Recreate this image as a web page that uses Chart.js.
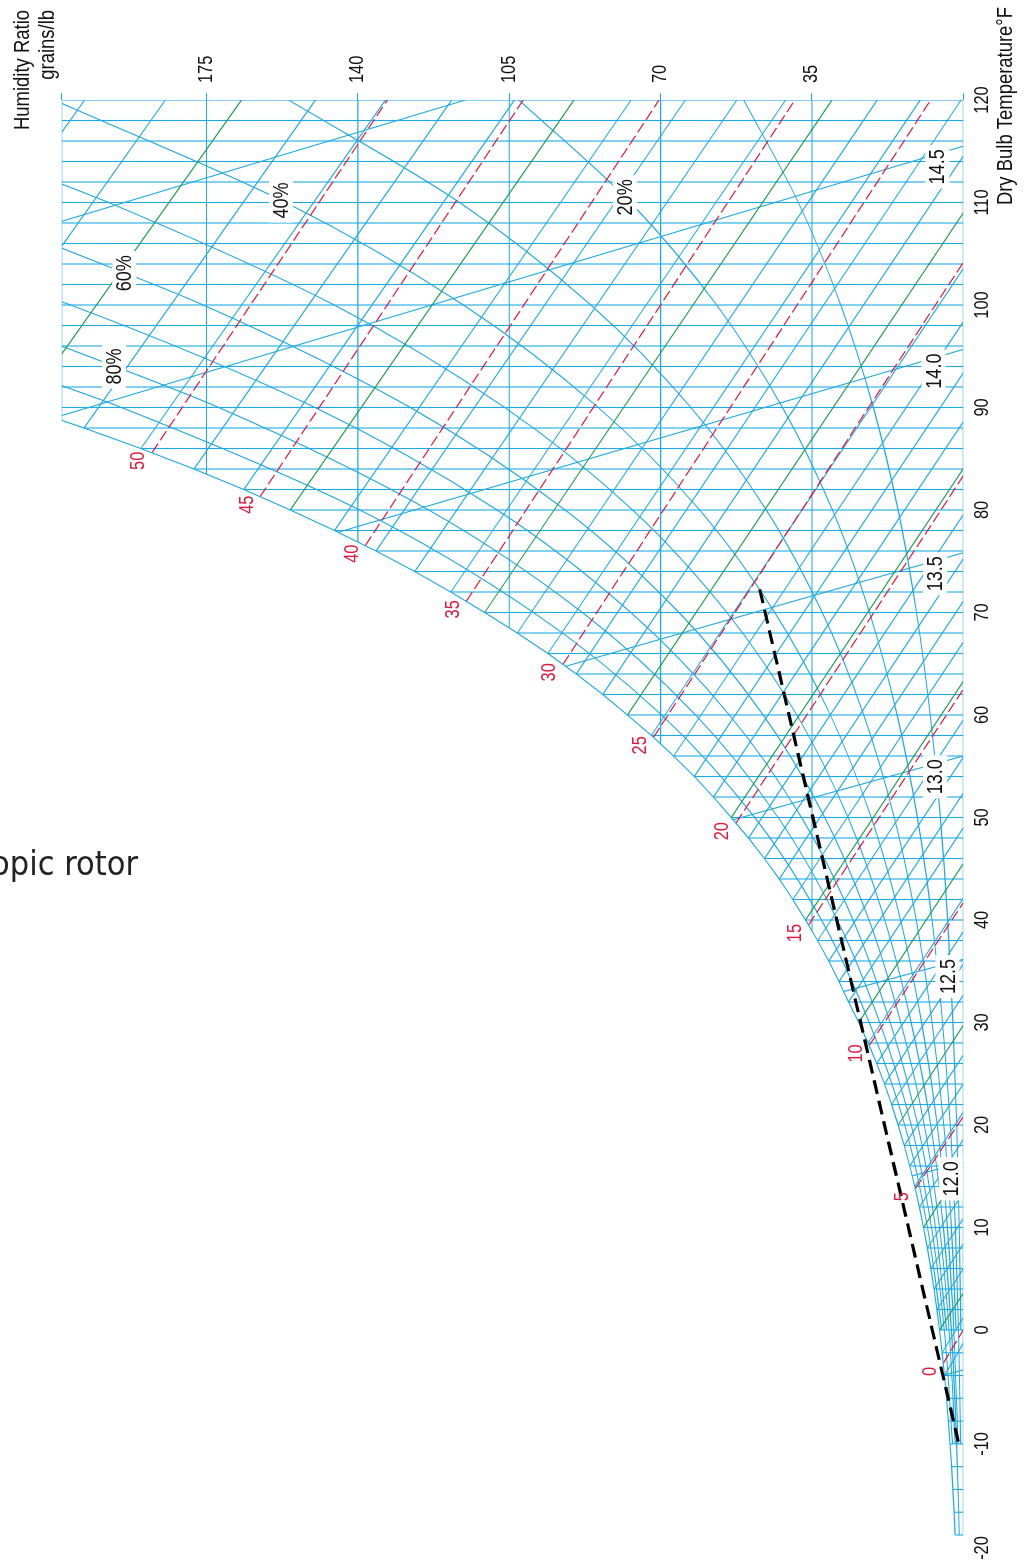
<!DOCTYPE html>
<html>
<head>
<meta charset="utf-8">
<title>Psychrometric chart</title>
<script src="https://cdn.jsdelivr.net/npm/chart.js@4.4.1/dist/chart.umd.min.js"></script>
<style>
  html, body { margin: 0; padding: 0; background: #fff; }
  body { width: 1034px; height: 1566px; overflow: hidden; position: relative; }
  /* the chart is laid out landscape and turned a quarter turn to the left */
  #turn { position: absolute; left: 0; top: 0; width: 1566px; height: 1034px;
          transform-origin: 0 0; transform: translate(0, 1566px) rotate(-90deg); }
  #note { position: absolute; left: -9px; top: 846px; color: #222; white-space: nowrap;
          font: 34px/34px "DejaVu Sans Condensed", "DejaVu Sans", sans-serif; }
</style>
</head>
<body>
<div id="turn"><canvas id="psychro" width="1566" height="1034"></canvas></div>
<div id="note">opic rotor</div>
<script>
// saturation curve: dry bulb (°F) and humidity ratio (grains per lb dry air)
const satTemp = [-18, -16, -14, -12, -10, -8, -6, -4, -2, 0, 2, 4, 6, 8, 10, 12, 14, 16, 18, 20,
  22, 24, 26, 28, 30, 32, 34, 36, 38, 40, 42, 44, 46, 48, 50, 52, 54, 56, 58, 60,
  62, 64, 66, 68, 70, 72, 74, 76, 78, 80, 82, 84, 86, 88, 88.75];
const satGrains = [1.88, 2.12, 2.40, 2.71, 3.07, 3.45, 3.88, 4.36, 4.90, 5.51, 6.11, 6.77, 7.50, 8.31, 9.21, 10.16, 11.22, 12.38, 13.66, 15.07,
  16.57, 18.21, 20.02, 22.01, 24.19, 26.53, 28.73, 31.11, 33.69, 36.49, 39.42, 42.58, 45.99, 49.68, 53.66, 57.78, 62.21, 66.99, 72.13, 77.66,
  83.37, 89.49, 96.07, 103.13, 110.70, 118.51, 126.87, 135.82, 145.40, 155.66, 166.41, 177.91, 190.20, 203.34, 208.5];
const topGrains = 208.5;
const topTemp = 120;

// dry bulb lines that run the full height above the saturation curve
const upperDryBulbs = [90, 92, 94, 96, 98, 100, 102, 104, 106, 108, 110, 112, 114, 116, 118];

// labelled humidity ratio lines and the dry bulb where each leaves the saturation curve
const humidityTicks = [35, 70, 105, 140, 175];
const humiditySatTemp = [38.99, 57.19, 68.51, 76.89, 83.51];

// relative humidity curves, grains/lb at each dry bulb in rhTemp
const rhTemp = [-18, -10, 0, 10, 20, 30, 40, 50, 60, 70, 80, 90, 100, 110, 120];
const rh10 = [null, null, 0.55, 0.92, 1.50, 2.41, 3.62, 5.31, 7.64, 10.82, 15.08, 20.80, 28.34, 38.14, 50.79];
const rh20 = [null, 0.61, 1.10, 1.84, 3.01, 4.82, 7.25, 10.63, 15.31, 21.70, 30.27, 41.81, 57.05, 76.96, 102.78];
const rh30 = [null, null, 1.65, 2.76, 4.51, 7.23, 10.88, 15.96, 23.01, 32.63, 45.56, 63.01, 86.13, 116.47, 156.01];
const rh40 = [null, 1.23, 2.20, 3.68, 6.02, 9.64, 14.52, 21.31, 30.74, 43.61, 60.96, 84.42, 115.61, 156.70];
const rh50 = [0.94, 1.54, 2.76, 4.60, 7.52, 12.06, 18.17, 26.67, 38.49, 54.66, 76.46, 106.04, 145.48, 197.65];
const rh60 = [null, 1.84, 3.31, 5.52, 9.03, 14.48, 21.82, 32.04, 46.27, 65.75, 92.08, 127.87, 175.75];
const rh70 = [null, null, 3.86, 6.44, 10.54, 16.91, 25.48, 37.43, 54.08, 76.90, 107.81, 149.92, 206.43];
const rh80 = [null, 2.46, 4.41, 7.37, 12.05, 19.33, 29.14, 42.82, 61.91, 88.11, 123.64, 172.19];
const rh90 = [null, null, 4.96, 8.29, 13.56, 21.76, 32.81, 48.24, 69.77, 99.38, 139.60, 194.67];
const rhLevels = [10, 20, 30, 40, 50, 60, 70, 80, 90];
// dry bulb where a curve runs into the top humidity limit
const rhTopTemp = [null, null, null, 119.67, 111.8, 105.55, 100.3, 96.0, 92.14];

// wet bulb lines every 2°F: each starts on the saturation curve (or the top limit) and ends here
const wetBulbTemp = [-4, -2, 0, 2, 4, 6, 8, 10, 12, 14, 16, 18, 20,
  22, 24, 26, 28, 30, 32, 34, 36, 38, 40, 42, 44, 46, 48, 50, 52, 54, 56, 58, 60,
  62, 64, 66, 68, 70, 72, 74, 76, 78, 80, 82, 84, 86, 88, 90, 92, 94];
const wetBulbEndTemp = [-1.16, 1.19, 3.58, 5.97, 8.39, 10.86, 13.39, 15.96, 18.57, 21.24, 23.99, 26.80, 29.71,
  32.66, 35.70, 38.85, 42.11, 45.50, 48.98, 52.37, 55.87, 59.50, 63.26, 67.10, 71.08, 75.22, 79.53, 84.02, 88.60, 93.36, 98.34, 103.54, 108.98,
  114.53, 120, 120, 120, 120, 120, 120, 120, 120, 120, 120, 120, 120, 120, 120, 120, 120];
const wetBulbEndGrains = [0, 0, 0, 0, 0, 0, 0, 0, 0, 0, 0, 0, 0,
  0, 0, 0, 0, 0, 0, 0, 0, 0, 0, 0, 0, 0, 0, 0, 0, 0, 0, 0, 0,
  0, 0.5, 9.96, 19.90, 30.37, 41.10, 52.38, 64.27, 76.81, 90.04, 103.79, 118.30, 133.62, 149.81, 166.92, 184.53, 203.19];
// wet bulbs 90, 92, 94 begin on the top limit at these dry bulbs
const wetBulbTopTemp = [95.22, 105.74, 116.85];

// enthalpy lines, Btu/lb dry air
const enthalpyValues = [0, 5, 10, 15, 20, 25, 30, 35, 40, 45, 50];
const enthalpyStartTemp = [-2.93, 13.78, 27.76, 39.51, 49.45, 57.82, 64.94, 71.09, 76.52, 81.30, 85.58];
const enthalpyStartGrains = [4.65, 11.10, 21.77, 35.81, 52.57, 71.66, 92.58, 114.94, 138.31, 162.63, 187.64];
const enthalpyEndTemp = [0, 20.83, 41.67, 62.5, 83.33, 104.17, 120, 120, 120, 120, 120];
const enthalpyEndGrains = [0, 0, 0, 0, 0, 0, 7.54, 38.95, 70.36, 101.77, 133.18];

// specific volume lines, ft³/lb dry air
const volumeValues = [11.5, 12.0, 12.5, 13.0, 13.5, 14.0, 14.5, 15.0];
const volumeStartTemp = [-3.96, 15.04, 33.02, 49.78, 64.75, 77.83, 89.21, 108.16];
const volumeStartGrains = [4.37, 11.82, 27.65, 53.22, 91.96, 144.57, 208.5, 208.5];
const volumeEndTemp = [-3.50, 16.33, 36.17, 56.0, 75.83, 95.67, 115.50, 120];
const volumeEndGrains = [0, 0, 0, 0, 0, 0, 0, 115.15];

// process line through the wheel
const processTemp = [-9.8, 72.85];
const processGrains = [1.16, 47.4];

const blue = '#1ea9e4';
const green = '#1d9f4a';
const red = '#e2183d';
const ink = '#111';
const face = '"Liberation Sans", Arial, sans-serif';
const squeeze = 0.82;   // horizontal squeeze that gives the condensed lettering

// dry bulb axis is stretched below 0°F: [value, fraction of the axis length]
const dryBulbBreaks = [[-20, 0], [-18, 13 / 1448], [0, 218 / 1448], [120, 1]];

function dryBulbDecimal(v) {
  let i = 0;
  while (i < dryBulbBreaks.length - 2 && v > dryBulbBreaks[i + 1][0]) i++;
  const [v0, f0] = dryBulbBreaks[i];
  const [v1, f1] = dryBulbBreaks[i + 1];
  return f0 + (v - v0) / (v1 - v0) * (f1 - f0);
}
function dryBulbValue(f) {
  let i = 0;
  while (i < dryBulbBreaks.length - 2 && f > dryBulbBreaks[i + 1][1]) i++;
  const [v0, f0] = dryBulbBreaks[i];
  const [v1, f1] = dryBulbBreaks[i + 1];
  return v0 + (f - f0) / (f1 - f0) * (v1 - v0);
}

class SplitLinearScale extends Chart.LinearScale {
  getPixelForValue(value) {
    return value === null ? NaN : this.getPixelForDecimal(dryBulbDecimal(value));
  }
  getValueForPixel(pixel) {
    return dryBulbValue(this.getDecimalForPixel(pixel));
  }
}
SplitLinearScale.id = 'splitLinear';
SplitLinearScale.defaults = {};
Chart.register(SplitLinearScale);

function line(points, color, extra) {
  return Object.assign({
    data: points, borderColor: color, borderWidth: 1.1, pointRadius: 0,
    tension: 0, fill: false, order: 6
  }, extra || {});
}
const pt = (x, y) => ({ x: x, y: y });

function rhPoints(k) {
  const curve = [rh10, rh20, rh30, rh40, rh50, rh60, rh70, rh80, rh90][k];
  const pts = [];
  curve.forEach((w, i) => { if (w !== null) pts.push(pt(rhTemp[i], w)); });
  if (rhTopTemp[k] !== null) pts.push(pt(rhTopTemp[k], topGrains));
  return pts;
}

const datasets = [];

// process line on top of everything
datasets.push(line(processTemp.map((t, i) => pt(t, processGrains[i])), '#000',
  { borderWidth: 3.2, borderDash: [14, 7], order: 0 }));

// saturation curve
datasets.push(line(satTemp.map((t, i) => pt(t, satGrains[i])), blue, { order: 2 }));

// dry bulb lines
satTemp.forEach((t, i) => {
  if (t % 2 === 0) datasets.push(line([pt(t, 0), pt(t, satGrains[i])], blue));
});
upperDryBulbs.forEach(t => datasets.push(line([pt(t, 0), pt(t, topGrains)], blue)));

// frame: zero humidity, top dry bulb, top humidity limit
datasets.push(line([pt(satTemp[0], 0), pt(topTemp, 0)], blue));
datasets.push(line([pt(topTemp, 0), pt(topTemp, topGrains)], blue));
datasets.push(line([pt(satTemp[satTemp.length - 1], topGrains), pt(topTemp, topGrains)], blue));

// humidity ratio lines
humidityTicks.forEach((w, i) => datasets.push(line([pt(humiditySatTemp[i], w), pt(topTemp, w)], blue)));

// relative humidity curves
rhLevels.forEach((rh, k) => datasets.push(line(rhPoints(k), blue, { cubicInterpolationMode: 'monotone' })));

// wet bulb lines, every tenth degree in green
wetBulbTemp.forEach((twb, i) => {
  const s = satTemp.indexOf(twb);
  const start = s >= 0 ? pt(twb, satGrains[s]) : pt(wetBulbTopTemp[(twb - 90) / 2], topGrains);
  const tenth = twb % 10 === 0;
  datasets.push(line([start, pt(wetBulbEndTemp[i], wetBulbEndGrains[i])],
    tenth ? green : blue, { order: tenth ? 4 : 5 }));
});

// specific volume lines
volumeValues.forEach((v, i) => datasets.push(line(
  [pt(volumeStartTemp[i], volumeStartGrains[i]), pt(volumeEndTemp[i], volumeEndGrains[i])], blue)));

// enthalpy lines
enthalpyValues.forEach((h, i) => datasets.push(line(
  [pt(enthalpyStartTemp[i], enthalpyStartGrains[i]), pt(enthalpyEndTemp[i], enthalpyEndGrains[i])],
  red, { borderWidth: 1.2, borderDash: [11, 4], order: 3 })));

// linear interpolation along a drawn polyline, used to seat the labels
function along(pts, key, value, other) {
  for (let i = 0; i < pts.length - 1; i++) {
    const a = pts[i], b = pts[i + 1];
    const lo = Math.min(a[key], b[key]), hi = Math.max(a[key], b[key]);
    if (value >= lo && value <= hi) {
      const f = (value - a[key]) / (b[key] - a[key]);
      return a[other] + f * (b[other] - a[other]);
    }
  }
  return NaN;
}

// condensed text: regular face squeezed sideways
function say(ctx, text, x, y, size, align, baseline) {
  ctx.save();
  ctx.font = size + 'px ' + face;
  ctx.textAlign = align || 'center';
  ctx.textBaseline = baseline || 'middle';
  ctx.translate(x, y);
  ctx.scale(squeeze, 1);
  ctx.fillText(text, 0, 0);
  ctx.restore();
}
function sayWidth(ctx, text, size) {
  ctx.save();
  ctx.font = size + 'px ' + face;
  const w = ctx.measureText(text).width * squeeze;
  ctx.restore();
  return w;
}

const rhLabelAt = [[20, 110.5], [40, 110.2], [60, 103.1], [80, 94.0]];
const volumeLabelAt = [[12.0, 2.9], [12.5, 3.65], [13.0, 6.5], [13.5, 6.5], [14.0, 6.9], [14.5, 6.0]];

const chartText = {
  id: 'chartText',
  afterDatasetsDraw(chart) {
    const { ctx } = chart;
    const sx = chart.scales.x, sy = chart.scales.y;

    // enthalpy values just outside the saturation curve
    ctx.fillStyle = red;
    enthalpyValues.forEach((h, i) => {
      say(ctx, String(h),
        sx.getPixelForValue(enthalpyStartTemp[i]) - 8,
        sy.getPixelForValue(enthalpyStartGrains[i]) - 13, 20);
    });

    const boxed = (text, cx, cy) => {
      const w = sayWidth(ctx, text, 22);
      ctx.fillStyle = '#fff';
      ctx.fillRect(cx - w / 2 - 4, cy - 12, w + 8, 24);
      ctx.fillStyle = ink;
      say(ctx, text, cx, cy + 1, 22);
    };

    rhLabelAt.forEach(([rh, t]) => {
      const w = along(rhPoints(rhLevels.indexOf(rh)), 'x', t, 'y');
      boxed(rh + '%', sx.getPixelForValue(t), sy.getPixelForValue(w));
    });

    volumeLabelAt.forEach(([v, w]) => {
      const i = volumeValues.indexOf(v);
      const pts = [pt(volumeStartTemp[i], volumeStartGrains[i]), pt(volumeEndTemp[i], volumeEndGrains[i])];
      const t = along(pts, 'y', w, 'x');
      boxed(v.toFixed(1), sx.getPixelForValue(t) - 13, sy.getPixelForValue(w));
    });
  },
  afterDraw(chart) {
    const { ctx } = chart;
    const sx = chart.scales.x, sy = chart.scales.y;
    ctx.fillStyle = ink;

    // tick labels
    sx.ticks.forEach(t => say(ctx, String(t.value), sx.getPixelForValue(t.value), sx.top + 19.5, 20));
    humidityTicks.forEach(w => say(ctx, String(w), sy.left + 17, sy.getPixelForValue(w), 20, 'left'));

    // axis titles
    say(ctx, 'Dry Bulb Temperature°F', 1559, 1011.5, 22.5, 'right', 'alphabetic');
    say(ctx, 'Humidity Ratio', 1556, 29, 22.5, 'right', 'alphabetic');
    say(ctx, 'grains/lb', 1556, 53.5, 22.5, 'right', 'alphabetic');
  }
};

new Chart(document.getElementById('psychro'), {
  type: 'line',
  data: { datasets: datasets },
  plugins: [chartText],
  options: {
    responsive: false,
    devicePixelRatio: 1,
    animation: false,
    events: [],
    layout: { padding: { left: 18, top: 61.7, right: 0, bottom: 0 }, autoPadding: false },
    plugins: { legend: { display: false }, tooltip: { enabled: false } },
    scales: {
      x: {
        type: 'splitLinear', min: -20, max: 120, position: 'bottom',
        grid: { display: false, drawTicks: false },
        border: { display: false },
        ticks: { stepSize: 10, autoSkip: false, maxRotation: 0, color: 'rgba(0,0,0,0)' },
        afterFit: s => { s.height = 70.7; }
      },
      y: {
        type: 'linear', position: 'right', min: 0, max: topGrains,
        grid: { drawOnChartArea: false, drawTicks: true, tickLength: 7, color: blue, lineWidth: 1 },
        border: { display: false },
        afterBuildTicks: s => { s.ticks = [0].concat(humidityTicks, [topGrains]).map(v => ({ value: v })); },
        ticks: { color: 'rgba(0,0,0,0)' },
        afterFit: s => { s.width = 100; }
      }
    }
  }
});
</script>
</body>
</html>
